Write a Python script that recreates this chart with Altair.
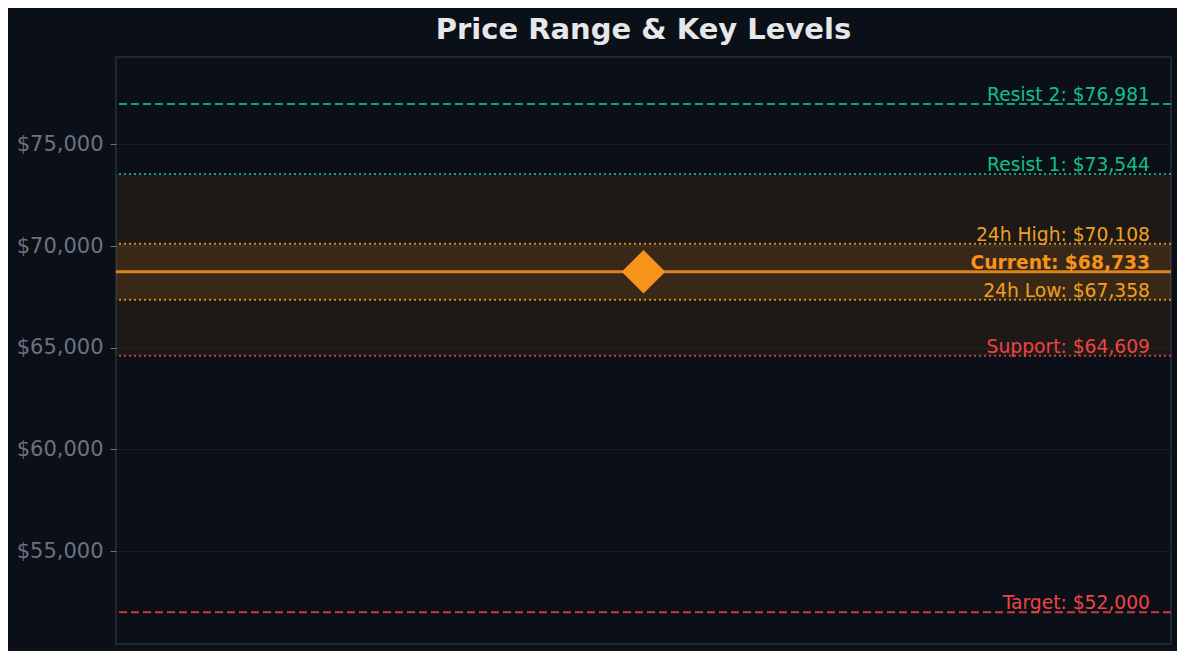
import altair as alt
import pandas as pd

# key price levels, top to bottom
level_names = ["Resist 2", "Resist 1", "24h High", "Current", "24h Low", "Support", "Target"]
level_values = [76981, 73544, 70108, 68733, 67358, 64609, 52000]
y_ticks = [55000, 60000, 65000, 70000, 75000]
y_domain = [50440, 79290]
chart_title = "Price Range & Key Levels"

W, H = 1055, 587
BG = "#0b0f17"

colors = {
    "Resist 2": "#10c087", "Resist 1": "#10c087",
    "24h High": "#f0a020", "Current": "#f7931a", "24h Low": "#f0a020",
    "Support": "#ef4444", "Target": "#ef4444",
}

lv = pd.DataFrame({"name": level_names, "value": level_values})
lv["label"] = [f"{n}: ${v:,}" for n, v in zip(level_names, level_values)]
vals = dict(zip(level_names, level_values))

bands = pd.DataFrame({
    "lo": [vals["Support"], vals["24h Low"]],
    "hi": [vals["Resist 1"], vals["24h High"]],
    "op": [0.08, 0.13],
})

yscale = alt.Scale(domain=y_domain, nice=False, zero=False)
yax = alt.Axis(values=y_ticks, format="$,.0f", title=None, grid=True, gridColor="#151a23",
               gridWidth=1, domain=False, tickColor="#6b7280", tickSize=6, labelPadding=7,
               labelColor="#6b7280", labelFontSize=21, labelFont="DejaVu Sans")
cscale = alt.Scale(domain=list(colors.keys()), range=list(colors.values()))

band = alt.Chart(bands).mark_rect(color="#f7931a").encode(
    y=alt.Y("lo:Q", scale=yscale, axis=yax),
    y2="hi:Q",
    opacity=alt.Opacity("op:Q", scale=None, legend=None),
)

base = alt.Chart(lv)

def rules(names, dash, width, opacity=0.85):
    return base.transform_filter(alt.FieldOneOfPredicate(field="name", oneOf=names)).mark_rule(
        strokeDash=dash, strokeWidth=width, opacity=opacity
    ).encode(
        y=alt.Y("value:Q", scale=yscale),
        color=alt.Color("name:N", scale=cscale, legend=None),
    )

dashed = rules(["Resist 2", "Target"], [8, 4], 2)
dotted = rules(["Resist 1", "24h High", "24h Low", "Support"], [2, 3], 2)
current = rules(["Current"], [1, 0], 3, 0.85)

labels = base.transform_filter(alt.datum.name != "Current").mark_text(
    align="right", baseline="alphabetic", dy=-3, fontSize=18.7, font="DejaVu Sans"
).encode(
    x=alt.value(W - 21),
    y=alt.Y("value:Q", scale=yscale),
    text="label:N",
    color=alt.Color("name:N", scale=cscale, legend=None),
)
cur_label = base.transform_filter(alt.datum.name == "Current").mark_text(
    align="right", baseline="alphabetic", dy=-3, fontSize=18.7, font="DejaVu Sans",
    fontWeight="bold"
).encode(
    x=alt.value(W - 21),
    y=alt.Y("value:Q", scale=yscale),
    text="label:N",
    color=alt.Color("name:N", scale=cscale, legend=None),
)

point = alt.Chart(pd.DataFrame({"x": [0.5], "value": [vals["Current"]]})).mark_point(
    shape="diamond", filled=True, size=1900, color="#f7931a", opacity=1
).encode(
    x=alt.X("x:Q", scale=alt.Scale(domain=[0, 1]), axis=None),
    y=alt.Y("value:Q", scale=yscale),
)

title = alt.Chart(pd.DataFrame({"t": [chart_title]})).mark_text(
    fontSize=29, fontWeight="bold", color="#e5e7eb", font="DejaVu Sans",
    align="center", baseline="alphabetic"
).encode(x=alt.value(W / 2), y=alt.value(-18), text="t:N")

chart = alt.layer(band, dashed, dotted, current, labels, cur_label, point, title).properties(
    width=W, height=H,
    autosize=alt.AutoSizeParams(type="none"),
    padding={"left": 108, "top": 49, "right": 6, "bottom": 7},
    background=BG,
).configure_view(stroke="#1f2733", strokeWidth=2, fill=BG)

chart.save("out.html", embed_options={"renderer": "svg", "actions": False})
